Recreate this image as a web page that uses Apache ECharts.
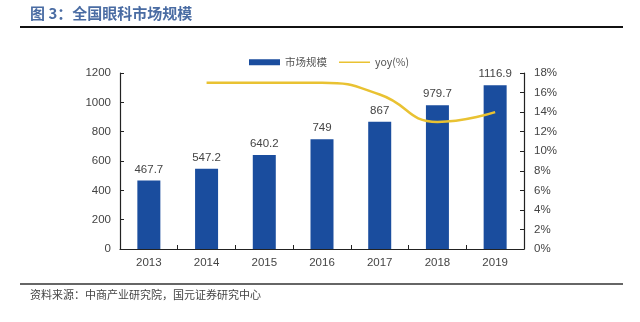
<!DOCTYPE html>
<html>
<head>
<meta charset="utf-8">
<script src="https://cdn.jsdelivr.net/npm/echarts@6/dist/echarts.min.js"></script>
<style>
html,body{margin:0;padding:0;background:#fff;}
#c{width:640px;height:322px;}
</style>
</head>
<body>
<div id="c"></div>
<script>
const categories = ['2013','2014','2015','2016','2017','2018','2019'];
const marketSize = [467.7, 547.2, 640.2, 749, 867, 979.7, 1116.9];
const yoy = ['-', 17.0, 17.0, 17.0, 15.8, 13.0, 14.0];
const leftTicks = [0, 200, 400, 600, 800, 1000, 1200];
const rightTicks = [0, 2, 4, 6, 8, 10, 12, 14, 16, 18];

const chart = echarts.init(document.getElementById('c'), null, {renderer: 'canvas'});
const cjk = '"Noto Sans CJK SC", sans-serif';
const latin = 'Arial, "Liberation Sans", sans-serif';

chart.setOption({
  animation: false,
  backgroundColor: '#fff',
  grid: {left: 120, right: 116, top: 73, bottom: 73, containLabel: false},
  legend: {
    left: 244, top: 52,
    itemGap: 12,
    itemWidth: 31, itemHeight: 6,
    textStyle: {fontFamily: cjk, fontSize: 10.5, color: '#555'},
    data: [
      {name: '市场规模', icon: 'rect'},
      {name: 'yoy(%)', icon: 'path://M0,0h0.01v0.01h-0.01z M0,2.2h31v1.6h-31z M30.99,5.99h0.01v0.01h-0.01z'}
    ]
  },
  graphic: [
    {type: 'text', left: 30, top: 6, style: {text: '图 3：全国眼科市场规模', font: 'bold 15px "Noto Sans CJK SC"', fill: '#4a6ca3'}},
    {type: 'rect', shape: {x: 20, y: 26, width: 603, height: 2}, style: {fill: '#111'}},
    {type: 'rect', shape: {x: 20, y: 283, width: 603, height: 2}, style: {fill: '#666'}},
    {type: 'text', left: 30, top: 289, style: {text: '资料来源：中商产业研究院，国元证券研究中心', font: '11px "Noto Sans CJK SC"', fill: '#444'}}
  ],
  xAxis: {
    type: 'category',
    data: categories,
    axisLine: {lineStyle: {color: '#222', width: 1.2}},
    axisTick: {show: true, inside: true, length: 4, alignWithLabel: false, lineStyle: {color: '#222'}},
    axisLabel: {fontFamily: latin, fontSize: 11.5, color: '#444', margin: 8}
  },
  yAxis: [
    {
      type: 'value', min: 0, max: 1200, interval: 200,
      axisLine: {show: true, lineStyle: {color: '#222', width: 1.2}},
      axisTick: {show: true, inside: true, length: 4, lineStyle: {color: '#222'}},
      splitLine: {show: false},
      axisLabel: {fontFamily: latin, fontSize: 11.5, color: '#444', margin: 9, formatter: function (v) { return String(v); }}
    },
    {
      type: 'value', min: 0, max: 18, interval: 2,
      axisLine: {show: true, lineStyle: {color: '#222', width: 1.2}},
      axisTick: {show: true, inside: true, length: 4, lineStyle: {color: '#222'}},
      splitLine: {show: false},
      axisLabel: {fontFamily: latin, fontSize: 11.5, color: '#444', margin: 10, formatter: '{value}%'}
    }
  ],
  series: [
    {
      name: '市场规模', type: 'bar', data: marketSize, yAxisIndex: 0,
      barWidth: 23,
      itemStyle: {color: '#1a4d9e'},
      label: {show: true, position: 'top', distance: 5, fontFamily: latin, fontSize: 11.5, color: '#444'}
    },
    {
      name: 'yoy(%)', type: 'line', data: yoy, yAxisIndex: 1,
      smooth: 0.5, symbol: 'none', showSymbol: false,
      lineStyle: {color: '#e9c232', width: 2.5},
      itemStyle: {color: '#e9c232'}
    }
  ]
});
</script>
</body>
</html>
